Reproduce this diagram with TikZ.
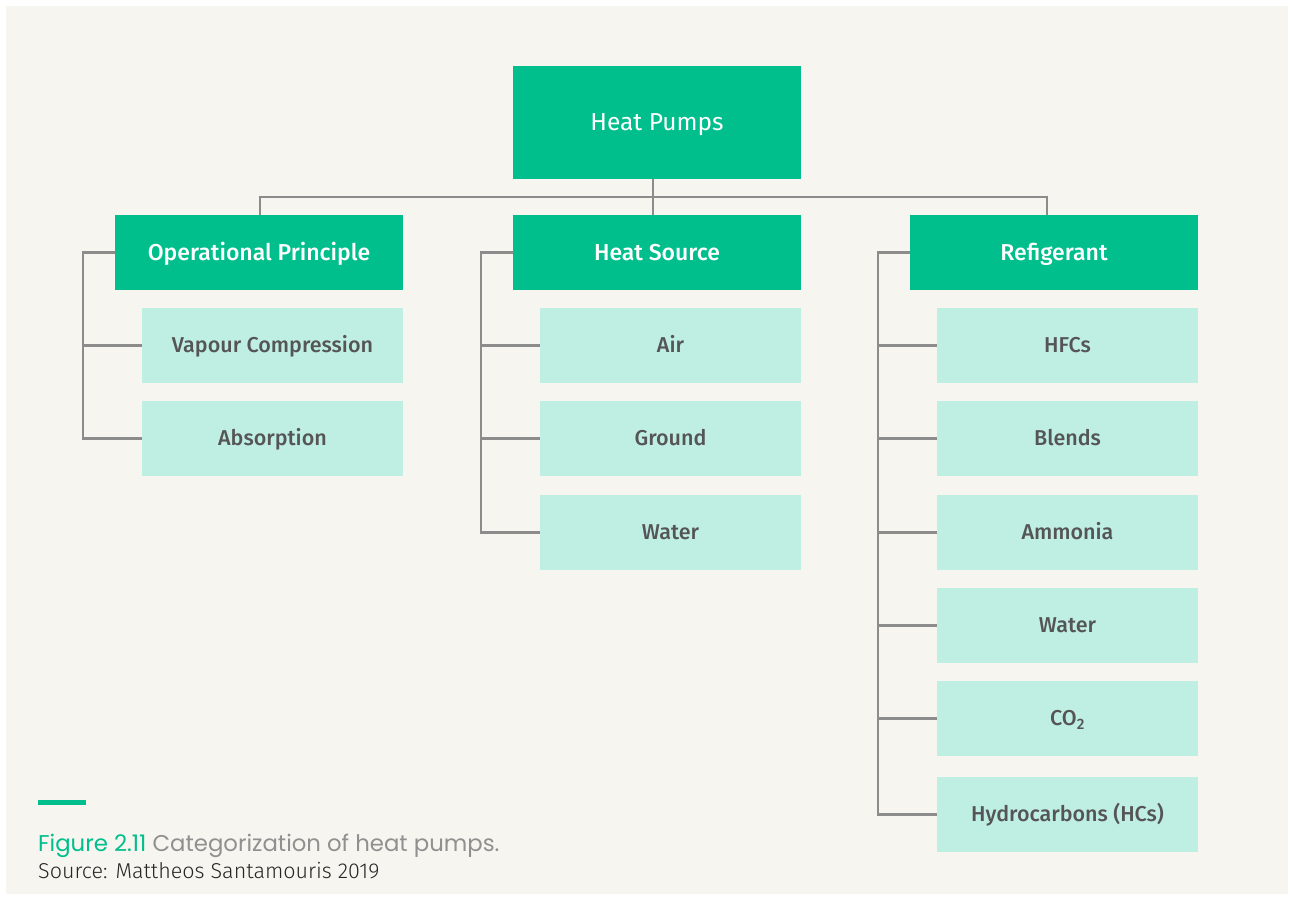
\documentclass[tikz,border=0pt]{standalone}
\usepackage{fontspec}
\setmainfont{Fira Sans}
\newfontfamily\medfont{Fira Sans Medium}
\newfontfamily\capfont{Poppins}
\newfontfamily\srcfont{Fira Sans Light}
\definecolor{panel}{HTML}{F7F5EF}
\definecolor{deepgreen}{HTML}{00BF8C}
\definecolor{mint}{HTML}{BFEEE2}
\definecolor{linkgray}{HTML}{8C8C8C}
\definecolor{subtext}{HTML}{555555}
\definecolor{captiongray}{HTML}{909090}
\tikzset{
  box/.style={rectangle, inner sep=0pt, text depth=0pt},
  head/.style={box, fill=deepgreen, text=white, text height=16.9pt,
    minimum width=288pt, font=\fontsize{24.5}{28}\selectfont},
  cat/.style={box, fill=deepgreen, text=white, text height=15.8pt,
    minimum width=288pt, minimum height=75pt, font=\medfont\fontsize{23}{27}\selectfont},
  leaf/.style={box, fill=mint, text=subtext, text height=14.8pt,
    minimum width=261pt, minimum height=75pt, font=\medfont\fontsize{21.5}{24}\selectfont},
  link/.style={draw=linkgray, line width=2.6pt}
}
\begin{document}
\begin{tikzpicture}[x=1pt, y=-1pt]
\useasboundingbox (0,0) rectangle (1290,897);
\fill[white] (0,0) rectangle (1290,897);
\fill[panel] (6,6) rectangle (1288,894);

% root and categories
\node[head, minimum height=113pt] (hp) at (657,122.5) {Heat Pumps};
\node[cat] (op) at (259,252.5) {Operational Principle};
\node[cat] (hs) at (657,252.5) {Heat Source};
\node[cat] (rf) at (1054,252.5) {Refigerant};

% operational principle
\node[leaf] (vc) at (272.5,345.5) {Vapour Compression};
\node[leaf] (ab) at (272.5,438.5) {Absorption};

% heat source
\node[leaf] (air) at (670.5,345.5) {Air};
\node[leaf] (gr)  at (670.5,438.5) {Ground};
\node[leaf] (hw)  at (670.5,532.5) {Water};

% refrigerant
\node[leaf] (hfc) at (1067.5,345.5) {HFCs};
\node[leaf] (bl)  at (1067.5,438.5) {Blends};
\node[leaf] (am)  at (1067.5,532.5) {Ammonia};
\node[leaf] (rw)  at (1067.5,625.5) {Water};
\node[leaf] (co)  at (1067.5,718.5) {CO\textsubscript{2}};
\node[leaf] (hc)  at (1067.5,814.5) {Hydrocarbons (HCs)};

% junctions of the top level
\coordinate (jl) at (260,197);
\coordinate (jc) at (653,197);
\coordinate (jr) at (1047,197);
\draw[link] (hp.south -| jc) -- (hs.north -| jc);
\draw[link] (jl |- op.north) -- (jl) -- (jr) -- (jr |- rf.north);

% bracket spines
\coordinate (sl) at (83,0);
\coordinate (sc) at (481,0);
\coordinate (sr) at (878,0);
\draw[link] (op.west) -- (op.west -| sl) -- (ab.west -| sl) -- (ab.west);
\draw[link] (vc.west -| sl) -- (vc.west);
\draw[link] (hs.west) -- (hs.west -| sc) -- (hw.west -| sc) -- (hw.west);
\draw[link] (air.west -| sc) -- (air.west);
\draw[link] (gr.west -| sc) -- (gr.west);
\draw[link] (rf.west) -- (rf.west -| sr) -- (hc.west -| sr) -- (hc.west);
\foreach \n in {hfc,bl,am,rw,co}
  \draw[link] (\n.west -| sr) -- (\n.west);

% caption
\fill[deepgreen] (38,800) rectangle (86,805);
\node[anchor=base west, inner sep=0pt, font=\capfont\fontsize{22.8}{26}\selectfont] (cap) at (38,851)
  {\textcolor{deepgreen}{Figure 2.11} \textcolor{captiongray}{Categorization of heat pumps.}};
\node[anchor=base west, inner sep=0pt, text=black!85, font=\srcfont\fontsize{21.5}{24}\selectfont] (src) at (38,878)
  {Source: Mattheos Santamouris 2019};
\end{tikzpicture}
\end{document}
